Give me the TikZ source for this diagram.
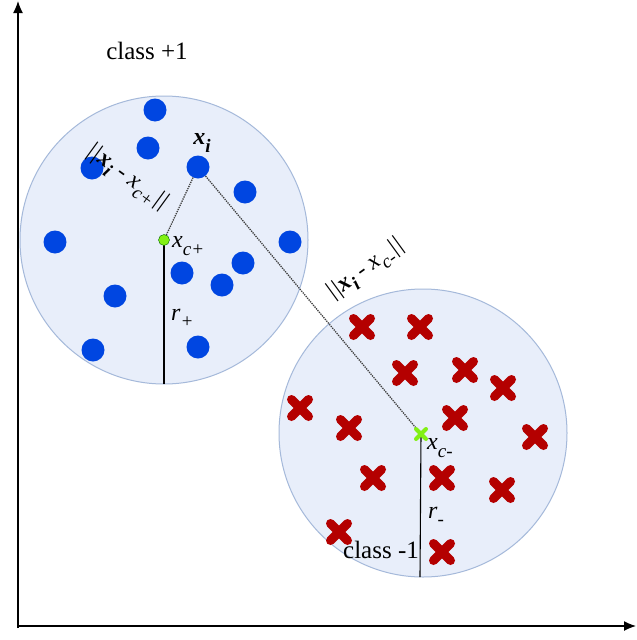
\documentclass[tikz,border=0pt]{standalone}
\usetikzlibrary{arrows.meta}
\usepackage{fontspec}
\setmainfont{Liberation Serif}
\definecolor{regfill}{RGB}{232,238,250}
\definecolor{regdraw}{RGB}{165,185,218}
\definecolor{dotblue}{RGB}{0,70,225}
\definecolor{xred}{RGB}{180,0,0}
\definecolor{cgreen}{RGB}{130,240,20}
\newcommand\dsub[1]{\raisebox{-0.3em}{\fontsize{19}{19}\selectfont #1}}
\begin{document}
\begin{tikzpicture}[x=1pt,y=-1pt,
  region/.style={draw=regdraw, line width=1pt, fill=regfill},
  dot/.style={circle, fill=dotblue, inner sep=0pt, minimum size=23pt},
  ctr/.style={circle, fill=cgreen, draw=green!40!black, line width=0.4pt, inner sep=0pt, minimum size=11pt},
  dist/.style={densely dotted, line width=1.3pt, black!75},
  lbl/.style={font=\fontsize{24}{26}\selectfont\itshape, inner sep=0pt},
  cross/.style={line width=9pt, line cap=round, xred}
]
\useasboundingbox (0,0) rectangle (637,640);
\fill[white] (0,0) rectangle (637,640);
% axes
\draw[line width=1.3pt, -{Latex[length=12pt,width=10pt]}] (18,628) -- (18,1);
\draw[line width=1.3pt, -{Latex[length=12pt,width=10pt]}] (17,626) -- (636,626);
% regions
\draw[region] (164,240) circle (144);
\draw[region] (423,433) circle (144);
% radii
\coordinate (bp) at (164,384);
\coordinate (bm) at (420,577);
% blue dots
\foreach \p [count=\i] in {(155,110),(148,148),(92,168),(55,242),(245,192),(290,242),(182,273),(243,263),(222,285),(115,296),(93,350),(198,347)}
  \node[dot] (b\i) at \p {};
\node[dot] (xi) at (198,167) {};
% crosses
\foreach \p in {(362,327),(420,327),(405,373),(465,370),(300,408),(349,428),(455,418),(503,388),(535,437),(373,478),(442,478),(502,490),(339,532),(442,552)}
  \draw[cross] \p ++(-8.5,-8.5) -- ++(17,17) \p ++(-8.5,8.5) -- ++(17,-17);
% centres
\coordinate (cp) at (164,240);
\coordinate (cm) at (421,434);
\draw[line width=1.1pt] (cp) -- (bp);
\draw[line width=1.1pt] (cm) -- (bm);
\draw[dist] (xi) -- (cp);
\draw[dist] (xi) -- (cm);
\node[ctr] (cpn) at (cp) {};
\draw[line width=4pt, line cap=round, cgreen] (416,429) -- (426,439) (416,439) -- (426,429);
% labels
\node[lbl] (lxi) at (202,143) {\bfseries x\dsub{i}};
\node[lbl, anchor=west] (lcp) at (172,246) {x\dsub{c+}};
\node[lbl, anchor=west] (lcm) at (427,448) {x\dsub{c-}};
\node[lbl, anchor=west] (lrp) at (171,318) {r\dsub{+}};
\node[lbl, anchor=west] (lrm) at (428,516) {r\dsub{-}};
\node[lbl, rotate=-36] (d1) at (127,178) {||\textbf{x\dsub{i}} - x\dsub{c+}||};
\node[lbl, rotate=36] (d2) at (366,270) {||\textbf{x\dsub{i}} - x\dsub{c-}||};
\node[font=\fontsize{25}{27}\selectfont] (c1) at (147,51) {class +1};
\node[font=\fontsize{25}{27}\selectfont] (c2) at (381,550) {class -1};
\end{tikzpicture}
\end{document}
